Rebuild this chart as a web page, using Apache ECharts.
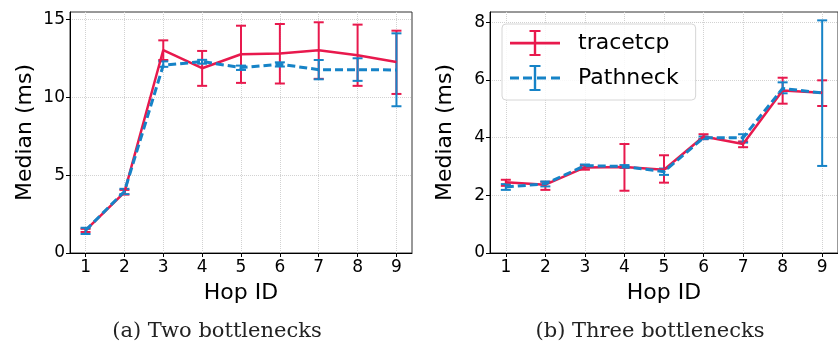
<!DOCTYPE html>
<html>
<head>
<meta charset="utf-8">
<script src="https://cdn.jsdelivr.net/npm/echarts@6/dist/echarts.min.js"></script>
<style>
  html, body { margin: 0; padding: 0; background: #fff; }
  #chart { width: 838px; height: 345px; }
</style>
</head>
<body>
<div id="chart"></div>
<script>
const hops = [1, 2, 3, 4, 5, 6, 7, 8, 9];

// (a) two bottlenecks
const aTracetcp = [1.45, 3.89, 13.03, 11.86, 12.76, 12.8, 13.01, 12.69, 12.26];
const aTracetcpLow = [1.35, 3.75, 12.39, 10.73, 10.92, 10.88, 11.18, 10.73, 10.21];
const aTracetcpHigh = [1.55, 4.05, 13.65, 12.97, 14.59, 14.7, 14.81, 14.66, 14.27];
const aPathneck = [1.45, 3.95, 12.05, 12.29, 11.9, 12.12, 11.77, 11.77, 11.75];
const aPathneckLow = [1.22, 3.78, 11.95, 12.15, 11.75, 11.97, 11.15, 11.05, 9.42];
const aPathneckHigh = [1.62, 4.12, 12.3, 12.4, 12.03, 12.24, 12.39, 12.5, 14.1];

// (b) three bottlenecks
const bTracetcp = [2.45, 2.37, 2.97, 2.98, 2.89, 4.04, 3.78, 5.64, 5.56];
const bTracetcpLow = [2.33, 2.19, 2.89, 2.16, 2.44, 3.95, 3.67, 5.18, 5.1];
const bTracetcpHigh = [2.54, 2.47, 3.04, 3.78, 3.39, 4.12, 3.87, 6.08, 5.99];
const bPathneck = [2.29, 2.4, 3.03, 3.0, 2.82, 4.0, 4.0, 5.71, 5.55];
const bPathneckLow = [2.19, 2.31, 2.97, 2.95, 2.71, 3.95, 3.83, 5.54, 3.02];
const bPathneckHigh = [2.39, 2.48, 3.07, 3.05, 2.93, 4.04, 4.12, 5.92, 8.07];

const aYTicks = [0, 5, 10, 15];
const bYTicks = [0, 2, 4, 6, 8];

const RED = '#e8194d';
const BLUE = '#1683c7';
const FONT = 'DejaVu Sans';

const chart = echarts.init(document.getElementById('chart'), null, { renderer: 'canvas' });

function errRenderItem(params, api) {
  const x = api.value(0);
  const lo = api.coord([x, api.value(1)]);
  const hi = api.coord([x, api.value(2)]);
  const cap = 5;
  const style = { stroke: api.visual('color'), lineWidth: 2 };
  return {
    type: 'group',
    children: [
      { type: 'line', shape: { x1: lo[0], y1: lo[1], x2: hi[0], y2: hi[1] }, style },
      { type: 'line', shape: { x1: lo[0] - cap, y1: lo[1], x2: lo[0] + cap, y2: lo[1] }, style },
      { type: 'line', shape: { x1: hi[0] - cap, y1: hi[1], x2: hi[0] + cap, y2: hi[1] }, style }
    ]
  };
}

function xAxis(gridIndex) {
  return {
    gridIndex,
    type: 'value',
    min: 0.6,
    max: 9.4,
    interval: 1,
    name: 'Hop ID',
    nameLocation: 'middle',
    nameGap: 29,
    nameTextStyle: { fontSize: 22, color: '#000', fontFamily: FONT },
    axisLine: { lineStyle: { color: '#000', width: 1 } },
    axisTick: { customValues: hops, length: 4, lineStyle: { color: '#000' } },
    axisLabel: { customValues: hops, fontSize: 17, color: '#000', margin: 6, fontFamily: FONT },
    splitLine: { show: true, lineStyle: { type: 'dotted', color: '#d2d2d2', width: 1 } }
  };
}

function yAxis(gridIndex, max, interval, ticks) {
  return {
    gridIndex,
    type: 'value',
    min: 0,
    max,
    interval,
    name: 'Median (ms)',
    nameLocation: 'middle',
    nameGap: 34,
    nameTextStyle: { fontSize: 22, color: '#000', fontFamily: FONT },
    axisLine: { show: true, lineStyle: { color: '#000', width: 1 } },
    axisTick: { show: true, customValues: ticks, length: 4, lineStyle: { color: '#000' } },
    axisLabel: { customValues: ticks, fontSize: 17, color: '#000', margin: 5, fontFamily: FONT },
    splitLine: { show: true, lineStyle: { type: 'dotted', color: '#d2d2d2', width: 1 } }
  };
}

function lineSeries(name, idx, values, color, dashed) {
  return {
    name,
    type: 'line',
    xAxisIndex: idx,
    yAxisIndex: idx,
    data: hops.map((h, i) => [h, values[i]]),
    symbol: 'none',
    z: 3 + (dashed ? 1 : 0),
    itemStyle: { color },
    lineStyle: { color, width: dashed ? 3 : 2.5, type: dashed ? [8, 4] : 'solid' },
    animation: false
  };
}

function errSeries(name, idx, low, high, color) {
  return {
    name,
    type: 'custom',
    xAxisIndex: idx,
    yAxisIndex: idx,
    renderItem: errRenderItem,
    encode: { x: 0, y: [1, 2] },
    data: hops.map((h, i) => [h, low[i], high[i]]),
    itemStyle: { color },
    z: 2,
    animation: false
  };
}

// legend icons: line with an error bar through the middle
const iconSolid = 'path://M0,11.8h50v2.6H0z M23.8,1h2.4v24h-2.4z M19.5,0h11v2h-11z M19.5,24h11v2h-11z';
const iconDashed = 'path://M0,11.6h9v3H0z M13,11.6h9v3h-9z M27,11.6h9v3h-9z M41,11.6h9v3h-9z M23.8,1h2.4v24h-2.4z M19.5,0h11v2h-11z M19.5,24h11v2h-11z';

const captionStyle = { fontSize: 21, fontFamily: 'DejaVu Serif', fill: '#222', textAlign: 'center', textVerticalAlign: 'middle' };

const option = {
  backgroundColor: '#fff',
  animation: false,
  grid: [
    { left: 70, right: 426, top: 12, bottom: 92, show: true, borderColor: '#333', borderWidth: 1 },
    { left: 490, right: -5, top: 12, bottom: 92, show: true, borderColor: '#333', borderWidth: 1 }
  ],
  xAxis: [xAxis(0), xAxis(1)],
  yAxis: [yAxis(0, 15.47, 5, aYTicks), yAxis(1, 8.36, 2, bYTicks)],
  legend: {
    left: 502,
    top: 24,
    orient: 'vertical',
    selectedMode: false,
    itemWidth: 50,
    itemHeight: 26,
    itemGap: 9,
    padding: [6, 17, 9, 8],
    borderColor: '#d6d6d6',
    borderWidth: 1,
    borderRadius: 4,
    backgroundColor: 'rgba(255,255,255,0.85)',
    textStyle: { fontSize: 22, color: '#000', fontFamily: FONT, padding: [0, 0, 0, 13] },
    data: [
      { name: 'tracetcp', icon: iconSolid, itemStyle: { color: RED, borderWidth: 0 } },
      { name: 'Pathneck', icon: iconDashed, itemStyle: { color: BLUE, borderWidth: 0 } }
    ]
  },
  graphic: [
    { type: 'text', x: 217, y: 332, style: Object.assign({ text: '(a) Two bottlenecks' }, captionStyle) },
    { type: 'text', x: 650, y: 332, style: Object.assign({ text: '(b) Three bottlenecks' }, captionStyle) }
  ],
  series: [
    lineSeries('tracetcp', 0, aTracetcp, RED, false),
    lineSeries('Pathneck', 0, aPathneck, BLUE, true),
    lineSeries('tracetcp', 1, bTracetcp, RED, false),
    lineSeries('Pathneck', 1, bPathneck, BLUE, true),
    errSeries('tracetcp err a', 0, aTracetcpLow, aTracetcpHigh, RED),
    errSeries('Pathneck err a', 0, aPathneckLow, aPathneckHigh, BLUE),
    errSeries('tracetcp err b', 1, bTracetcpLow, bTracetcpHigh, RED),
    errSeries('Pathneck err b', 1, bPathneckLow, bPathneckHigh, BLUE)
  ]
};

chart.setOption(option);
</script>
</body>
</html>
